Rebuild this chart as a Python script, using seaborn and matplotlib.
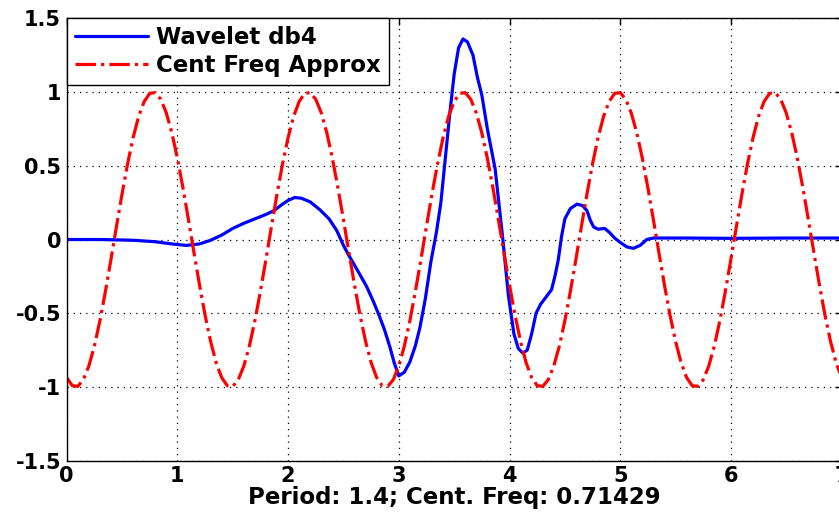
import numpy as np
import pandas as pd
import matplotlib
matplotlib.use("Agg")
import matplotlib.pyplot as plt
import seaborn as sns

# ==========================================
# DATA
# ==========================================
# db4 wavelet, traced point by point
wav_x = [0.0, 0.3, 0.6, 0.8, 0.95, 1.08, 1.2, 1.3, 1.4, 1.5, 1.6, 1.7, 1.8, 1.87,
         1.95, 2.0, 2.06, 2.12, 2.2, 2.29, 2.37, 2.44, 2.5, 2.55, 2.62, 2.71, 2.77,
         2.82, 2.87, 2.92, 2.96, 3.0, 3.05, 3.1, 3.15, 3.19, 3.24, 3.29, 3.34, 3.38,
         3.42, 3.46, 3.5, 3.54, 3.58, 3.62, 3.67, 3.71, 3.75, 3.8, 3.87, 3.94, 3.99,
         4.04, 4.08, 4.12, 4.16, 4.2, 4.24, 4.28, 4.33, 4.38, 4.41, 4.44, 4.47, 4.5,
         4.55, 4.61, 4.66, 4.7, 4.73, 4.76, 4.8, 4.86, 4.9, 4.95, 5.0, 5.06, 5.12,
         5.18, 5.24, 5.3, 5.6, 6.0, 6.5, 7.0]
wav_y = [0.0, 0.0, -0.005, -0.015, -0.03, -0.04, -0.03, -0.005, 0.03, 0.075, 0.11,
         0.14, 0.17, 0.195, 0.24, 0.265, 0.285, 0.28, 0.255, 0.2, 0.14, 0.06, -0.04,
         -0.11, -0.2, -0.32, -0.42, -0.51, -0.61, -0.73, -0.84, -0.925, -0.9, -0.83,
         -0.72, -0.6, -0.4, -0.15, 0.05, 0.25, 0.55, 0.85, 1.12, 1.3, 1.36, 1.34,
         1.25, 1.1, 0.98, 0.75, 0.48, 0.0, -0.38, -0.64, -0.74, -0.77, -0.75, -0.64,
         -0.5, -0.44, -0.39, -0.34, -0.25, -0.14, 0.02, 0.14, 0.21, 0.24, 0.23, 0.195,
         0.13, 0.085, 0.07, 0.075, 0.05, 0.01, -0.02, -0.05, -0.06, -0.04, 0.0, 0.01,
         0.01, 0.008, 0.01, 0.01]

# centre frequency approximation, sampled every 0.05
approx_x = [round(0.05 * i, 2) for i in range(141)]
approx_y = [
    -0.936, -0.991, -0.996, -0.951, -0.858, -0.723, -0.551, -0.351, -0.134, 0.090, 0.309, 0.513, 0.691, 0.835,
    0.936, 0.991, 0.996, 0.951, 0.858, 0.723, 0.551, 0.351, 0.134, -0.090, -0.309, -0.513, -0.691, -0.835,
    -0.936, -0.991, -0.996, -0.951, -0.858, -0.723, -0.551, -0.351, -0.134, 0.090, 0.309, 0.513, 0.691, 0.835,
    0.936, 0.991, 0.996, 0.951, 0.858, 0.723, 0.551, 0.351, 0.134, -0.090, -0.309, -0.513, -0.691, -0.835,
    -0.936, -0.991, -0.996, -0.951, -0.858, -0.723, -0.551, -0.351, -0.134, 0.090, 0.309, 0.513, 0.691, 0.835,
    0.936, 0.991, 0.996, 0.951, 0.858, 0.723, 0.551, 0.351, 0.134, -0.090, -0.309, -0.513, -0.691, -0.835,
    -0.936, -0.991, -0.996, -0.951, -0.858, -0.723, -0.551, -0.351, -0.134, 0.090, 0.309, 0.513, 0.691, 0.835,
    0.936, 0.991, 0.996, 0.951, 0.858, 0.723, 0.551, 0.351, 0.134, -0.090, -0.309, -0.513, -0.691, -0.835,
    -0.936, -0.991, -0.996, -0.951, -0.858, -0.723, -0.551, -0.351, -0.134, 0.090, 0.309, 0.513, 0.691, 0.835,
    0.936, 0.991, 0.996, 0.951, 0.858, 0.723, 0.551, 0.351, 0.134, -0.090, -0.309, -0.513, -0.691, -0.835,
    -0.936,
]

x_ticks = [0, 1, 2, 3, 4, 5, 6, 7]
y_ticks = [-1.5, -1, -0.5, 0, 0.5, 1, 1.5]
y_tick_labels = ["-1.5", "-1", "-0.5", "0", "0.5", "1", "1.5"]
xlabel_text = "Period: 1.4; Cent. Freq: 0.71429"

# ==========================================
# STYLE
# ==========================================
sns.set_style("white")
plt.rcParams["font.family"] = ["DejaVu Sans"]
plt.rcParams["font.weight"] = "bold"
plt.rcParams["axes.unicode_minus"] = False
plt.rcParams["text.color"] = "black"
plt.rcParams["axes.labelcolor"] = "black"
plt.rcParams["xtick.color"] = "black"
plt.rcParams["ytick.color"] = "black"

fig = plt.figure(figsize=(8.39, 5.12), dpi=100)
ax = fig.add_axes([0.0795, 0.1002, 0.9236, 0.864])

df_wav = pd.DataFrame({"x": wav_x, "y": wav_y})
df_app = pd.DataFrame({"x": approx_x, "y": approx_y})

sns.lineplot(data=df_wav, x="x", y="y", ax=ax, color=(0, 0, 1), linewidth=2.3,
             label="Wavelet db4", sort=False, estimator=None)
sns.lineplot(data=df_app, x="x", y="y", ax=ax, color=(1, 0, 0), linewidth=2.3,
             linestyle="-.", label="Cent Freq Approx", sort=False, estimator=None)

ax.set_xlim(0, 7)
ax.set_ylim(-1.5, 1.5)
ax.set_xticks(x_ticks)
ax.set_xticklabels([str(t) for t in x_ticks])
ax.set_yticks(y_ticks)
ax.set_yticklabels(y_tick_labels)
ax.tick_params(direction="in", length=5, width=1, top=True, right=True,
               labelsize=15, colors="black", pad=4)
for lab in ax.get_xticklabels() + ax.get_yticklabels():
    lab.set_fontweight("bold")
    lab.set_color("black")

ax.grid(True, linestyle=(0, (1, 4)), color="black", linewidth=0.9)
for sp in ax.spines.values():
    sp.set_color("black")
    sp.set_linewidth(1.0)
    sp.set_visible(True)

ax.set_ylabel("")
ax.set_xlabel(xlabel_text, fontsize=16.5, fontweight="bold", color="black", labelpad=0)

leg = ax.legend(loc="upper left", borderaxespad=0, fontsize=16.5, handlelength=3.2,
                fancybox=False, framealpha=1, edgecolor="black",
                borderpad=0.35, labelspacing=0.2, handletextpad=0.35)
leg.get_frame().set_linewidth(1.0)
for t in leg.get_texts():
    t.set_fontweight("bold")
    t.set_color("black")

fig.savefig("out.png", dpi=100)
